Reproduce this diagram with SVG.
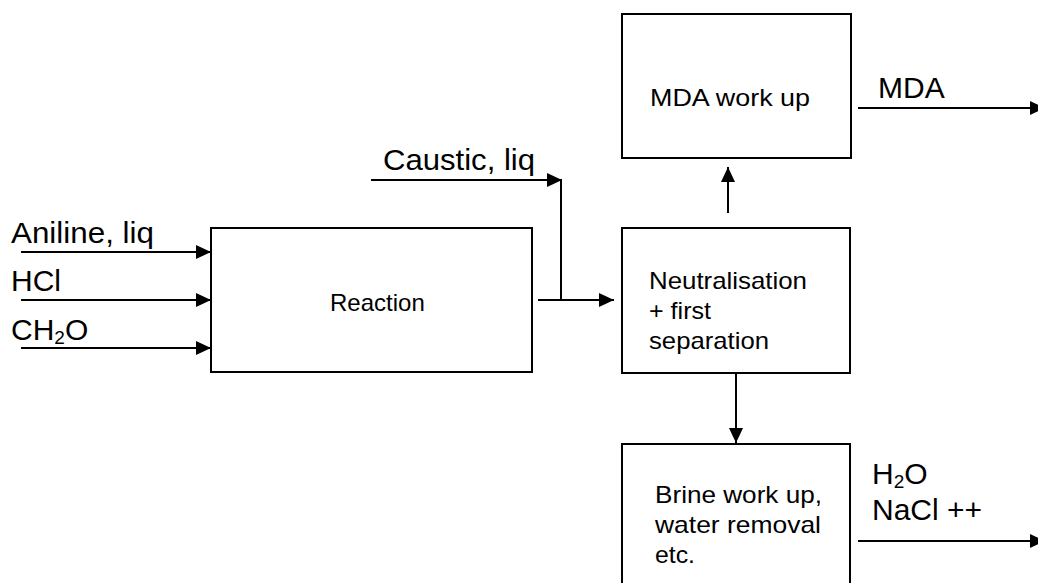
<svg xmlns="http://www.w3.org/2000/svg" width="1038" height="583" viewBox="0 0 1038 583">
<style>
.box{fill:#fff;stroke:#000;stroke-width:2}
.ln{fill:none;stroke:#000;stroke-width:2}
.lbl{font-family:"Liberation Sans",Arial,sans-serif;font-size:30px;fill:#000}
.txt{font-family:"Liberation Sans",Arial,sans-serif;font-size:24px;fill:#000}
.sub{font-size:19px}
</style>
<defs>
<marker id="arr" markerWidth="15" markerHeight="14" refX="15" refY="7" orient="auto" markerUnits="userSpaceOnUse">
<path d="M0,0 L15,7 L0,14 Z" fill="#000"/>
</marker>
</defs>
<rect width="1038" height="583" fill="#fff"/>
<g id="connectors">
<line class="ln" x1="21" y1="252" x2="211" y2="252" marker-end="url(#arr)"/>
<line class="ln" x1="21" y1="300" x2="211" y2="300" marker-end="url(#arr)"/>
<line class="ln" x1="21" y1="348" x2="211" y2="348" marker-end="url(#arr)"/>
<line class="ln" x1="371" y1="180" x2="562" y2="180" marker-end="url(#arr)"/>
<line class="ln" x1="561" y1="180" x2="561" y2="300"/>
<line class="ln" x1="538" y1="300" x2="614" y2="300" marker-end="url(#arr)"/>
<line class="ln" x1="728" y1="213" x2="728" y2="167" marker-end="url(#arr)"/>
<line class="ln" x1="736" y1="373" x2="736" y2="443" marker-end="url(#arr)"/>
<line class="ln" x1="858" y1="108" x2="1045" y2="108" marker-end="url(#arr)"/>
<line class="ln" x1="858" y1="541" x2="1045" y2="541" marker-end="url(#arr)"/>
</g>
<g id="labels">
<text class="lbl" x="11" y="243" textLength="143" lengthAdjust="spacingAndGlyphs">Aniline, liq</text>
<text class="lbl" x="11" y="291">HCl</text>
<text class="lbl" x="11" y="340">CH<tspan class="sub" dy="4">2</tspan><tspan dy="-4">O</tspan></text>
<text class="lbl" x="383" y="170" textLength="152" lengthAdjust="spacingAndGlyphs">Caustic, liq</text>
<text class="lbl" x="878" y="98">MDA</text>
<text class="lbl" x="872" y="484">H<tspan class="sub" dy="4">2</tspan><tspan dy="-4">O</tspan></text>
<text class="lbl" x="872" y="520">NaCl ++</text>
</g>
<g id="reaction">
<rect class="box" x="211" y="228" width="321" height="144"/>
<text class="txt" x="330" y="311" font-size="23.5">Reaction</text>
</g>
<g id="neutralisation">
<rect class="box" x="622" y="228" width="228" height="145"/>
<text class="txt" x="649" y="289" textLength="158" lengthAdjust="spacingAndGlyphs">Neutralisation</text>
<text class="txt" x="649" y="319" textLength="62" lengthAdjust="spacingAndGlyphs">+ first</text>
<text class="txt" x="649" y="349" textLength="120" lengthAdjust="spacingAndGlyphs">separation</text>
</g>
<g id="mda-workup">
<rect class="box" x="622" y="14" width="229" height="144"/>
<text class="txt" x="650" y="106" textLength="160" lengthAdjust="spacingAndGlyphs">MDA work up</text>
</g>
<g id="brine-workup">
<rect class="box" x="622" y="444" width="228" height="150"/>
<text class="txt" x="655" y="503" textLength="167" lengthAdjust="spacingAndGlyphs">Brine work up,</text>
<text class="txt" x="655" y="533" textLength="166" lengthAdjust="spacingAndGlyphs">water removal</text>
<text class="txt" x="655" y="563" textLength="40" lengthAdjust="spacingAndGlyphs">etc.</text>
</g>
</svg>
